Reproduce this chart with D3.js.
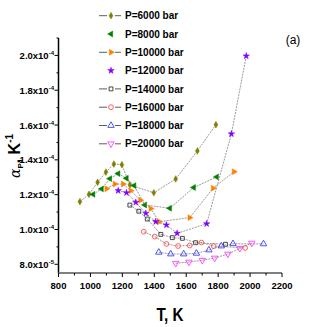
<!DOCTYPE html>
<html>
<head>
<meta charset="utf-8">
<script src="https://cdn.jsdelivr.net/npm/d3@7"></script>
<style>
  body { margin: 0; background: #fff; }
  text { font-family: "Liberation Sans", Arial, sans-serif; }
</style>
</head>
<body>
<svg id="chart" width="327" height="327"></svg>
<script>
const pressures = ['P=6000 bar', 'P=8000 bar', 'P=10000 bar', 'P=12000 bar',
  'P=14000 bar', 'P=16000 bar', 'P=18000 bar', 'P=20000 bar'];

const t6000 = [934, 991, 1045, 1097, 1147, 1197, 1247, 1397, 1534, 1670, 1786];
const a6000 = [1.160, 1.202, 1.271, 1.330, 1.376, 1.372, 1.256, 1.211, 1.290, 1.451, 1.602];

const t8000 = [1017, 1070, 1122, 1174, 1226, 1274, 1341, 1497, 1647, 1791];
const a8000 = [1.202, 1.233, 1.292, 1.321, 1.294, 1.252, 1.141, 1.122, 1.241, 1.302];

const t10000 = [1101, 1153, 1205, 1253, 1313, 1378, 1431, 1622, 1768, 1899];
const a10000 = [1.234, 1.261, 1.261, 1.223, 1.168, 1.120, 1.045, 1.068, 1.237, 1.332];

const t12000 = [1174, 1226, 1284, 1347, 1409, 1476, 1543, 1728, 1883, 1976];
const a12000 = [1.223, 1.211, 1.156, 1.093, 1.045, 1.026, 0.978, 1.033, 1.549, 1.997];

const t14000 = [1247, 1303, 1356, 1441, 1513, 1576, 1659, 1846];
const a14000 = [1.140, 1.105, 1.060, 0.972, 0.953, 0.949, 0.924, 0.915];

const t16000 = [1334, 1403, 1476, 1549, 1622, 1695, 1772, 1969];
const a16000 = [0.987, 0.959, 0.917, 0.905, 0.908, 0.925, 0.905, 0.894];

const t18000 = [1428, 1503, 1584, 1664, 1742, 1820, 1893, 2084];
const a18000 = [0.869, 0.859, 0.859, 0.863, 0.882, 0.905, 0.918, 0.917];

const t20000 = [1534, 1617, 1701, 1778, 1861, 1936, 2011];
const a20000 = [0.806, 0.813, 0.823, 0.836, 0.859, 0.892, 0.922];

const yTicks = [0.8, 1.0, 1.2, 1.4, 1.6, 1.8, 2.0];
const xTicks = [800, 1000, 1200, 1400, 1600, 1800, 2000, 2200];

const svg = d3.select('#chart');
const x = d3.scaleLinear().domain([800, 2200]).range([58.5, 282]);
const y = d3.scaleLinear().domain([0.75, 2.1]).range([273, 38]);

const seriesList = [
  { name: pressures[0], t: t6000, a: a6000, type: d3.symbolDiamond, size: 13, rot: 0, color: '#808000', fill: true, legendLine: true },
  { name: pressures[1], t: t8000, a: a8000, type: d3.symbolTriangle, size: 15, rot: -90, color: '#008000', fill: true, legendLine: false },
  { name: pressures[2], t: t10000, a: a10000, type: d3.symbolTriangle, size: 15, rot: 90, color: '#ff8000', fill: true, legendLine: true },
  { name: pressures[3], t: t12000, a: a12000, type: d3.symbolStar, size: 13, rot: 0, color: '#8000ff', fill: true, legendLine: false },
  { name: pressures[4], t: t14000, a: a14000, type: d3.symbolSquare, size: 15, rot: 0, color: '#333333', fill: false, legendLine: true },
  { name: pressures[5], t: t16000, a: a16000, type: d3.symbolCircle, size: 18, rot: 0, color: '#ff4d4d', fill: false, legendLine: true },
  { name: pressures[6], t: t18000, a: a18000, type: d3.symbolTriangle, size: 18, rot: 0, color: '#4040ff', fill: false, legendLine: true },
  { name: pressures[7], t: t20000, a: a20000, type: d3.symbolTriangle, size: 18, rot: 180, color: '#ff40ff', fill: false, legendLine: true }
];

function drawMarker(g, s, cx, cy) {
  g.append('path')
    .attr('d', d3.symbol().type(s.type).size(s.size)())
    .attr('transform', `translate(${cx},${cy}) rotate(${s.rot})`)
    .attr('fill', s.fill ? s.color : 'none')
    .attr('stroke', s.color)
    .attr('stroke-width', s.fill ? 0.5 : 0.9);
}

// axes
const yAxis = svg.append('g');
yAxis.append('line')
  .attr('x1', x(800)).attr('x2', x(800))
  .attr('y1', y(2.1)).attr('y2', y(0.75))
  .attr('stroke', '#000').attr('stroke-width', 1.5);
d3.range(0.8, 2.15, 0.1).forEach((v, i) => {
  yAxis.append('line')
    .attr('x1', x(800)).attr('x2', x(800) - (i % 2 === 0 ? 4 : 2))
    .attr('y1', y(v)).attr('y2', y(v))
    .attr('stroke', '#000').attr('stroke-width', 1);
});
yTicks.forEach(v => {
  const txt = yAxis.append('text')
    .attr('x', 54).attr('y', y(v) + 3.5)
    .attr('text-anchor', 'end')
    .style('font-size', '9.5px').style('font-weight', 'bold');
  const base = v < 1 ? (v * 10).toFixed(1) : v.toFixed(1);
  txt.append('tspan').text(base + 'x10');
  txt.append('tspan').attr('dy', -4).style('font-size', '6px').text(v < 1 ? '-5' : '-4');
});

const xAxis = svg.append('g');
xAxis.append('line')
  .attr('x1', x(800)).attr('x2', x(2200))
  .attr('y1', 273).attr('y2', 273)
  .attr('stroke', '#808080').attr('stroke-width', 2);
d3.range(800, 2201, 100).forEach((v, i) => {
  xAxis.append('line')
    .attr('x1', x(v)).attr('x2', x(v))
    .attr('y1', 273).attr('y2', 273 + (i % 2 === 0 ? 4 : 2.5))
    .attr('stroke', '#000').attr('stroke-width', 1);
});
xTicks.forEach(v => {
  xAxis.append('text')
    .attr('x', x(v)).attr('y', 289)
    .attr('text-anchor', 'middle')
    .style('font-size', '9.5px').style('font-weight', 'bold')
    .text(v);
});

// axis titles
svg.append('text')
  .attr('x', 170).attr('y', 321)
  .attr('text-anchor', 'middle')
  .style('font-size', '19px').style('font-weight', 'bold')
  .attr('transform', 'translate(170,0) scale(0.8,1) translate(-170,0)')
  .text('T, K');

const yTitle = svg.append('text')
  .attr('transform', 'translate(20,156) rotate(-90)')
  .attr('text-anchor', 'middle')
  .style('font-weight', 'bold');
yTitle.append('tspan').style('font-size', '14px').style('font-style', 'italic').style('font-family', 'DejaVu Serif, serif').style('font-weight', 'normal').text('α');
yTitle.append('tspan').attr('dy', 3).style('font-size', '8px').text('P');
yTitle.append('tspan').attr('dy', -3).style('font-size', '16px').text(', K');
yTitle.append('tspan').attr('dy', -7).style('font-size', '10px').text('-1');

svg.append('text')
  .attr('x', 293).attr('y', 44)
  .attr('text-anchor', 'middle')
  .style('font-size', '12px')
  .text('(a)');

// series lines + markers
const line = d3.line().x(d => x(d[0])).y(d => y(d[1]));
seriesList.forEach(s => {
  const pts = s.t.map((t, i) => [t, s.a[i]]);
  svg.append('path')
    .attr('d', line(pts))
    .attr('fill', 'none')
    .attr('stroke', '#808080')
    .attr('stroke-width', 0.8)
    .attr('stroke-dasharray', '2,1');
  const g = svg.append('g');
  pts.forEach(p => drawMarker(g, s, x(p[0]), y(p[1])));
});

// legend
const legend = svg.append('g');
seriesList.forEach((s, i) => {
  const ly = 15.7 + i * 18.3;
  if (s.legendLine) {
    legend.append('line').attr('x1', 99).attr('x2', 107).attr('y1', ly).attr('y2', ly)
      .attr('stroke', '#333').attr('stroke-width', 0.8);
    legend.append('line').attr('x1', 115).attr('x2', 121).attr('y1', ly).attr('y2', ly)
      .attr('stroke', '#333').attr('stroke-width', 0.8);
  }
  drawMarker(legend, s, 111, ly);
  legend.append('text')
    .attr('x', 125).attr('y', ly + 3.6)
    .style('font-size', '10px').style('font-weight', 'bold')
    .text(s.name);
});
</script>
</body>
</html>
